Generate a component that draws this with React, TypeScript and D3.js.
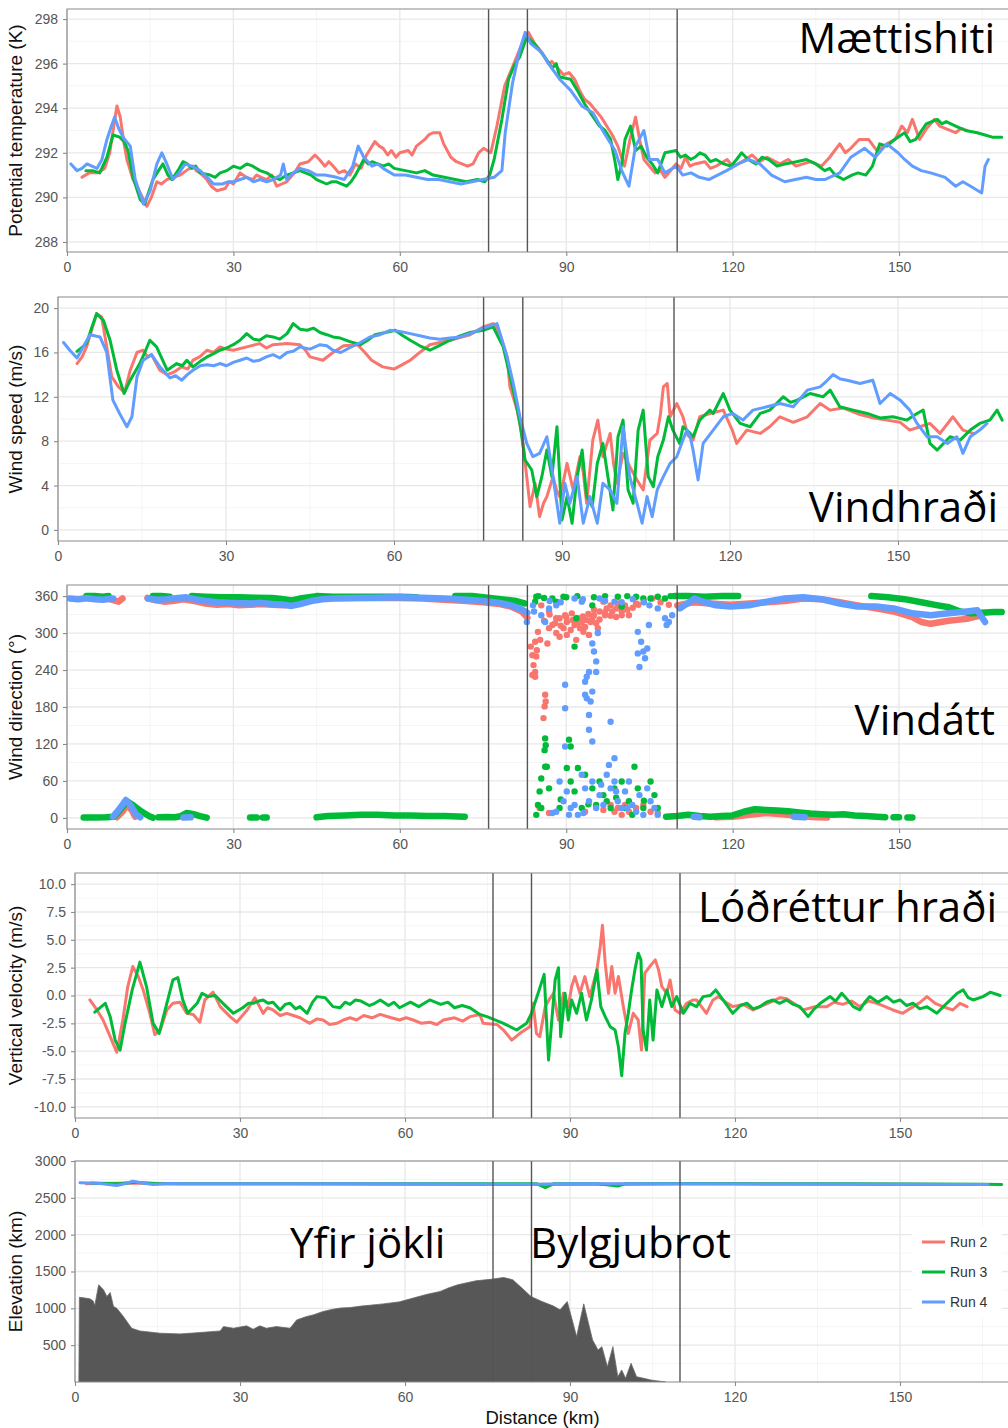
import React, { useEffect, useRef } from 'react';
import * as d3 from 'd3';

type Pt = [number, number] | null;

const runNames = ['Run 2', 'Run 3', 'Run 4'];
const runColors = ['#F8766D', '#00BA38', '#619CFF'];
const sectionKm = [76, 83, 110];
const xTicks = [0, 30, 60, 90, 120, 150];
const xMinor = [15, 45, 75, 105, 135, 165];

// ---- potential temperature (K)
const ptRun2: Pt[] = [[2.7,290.9],[4,291.1],[5.5,291.1],[6.8,291.3],[7.7,292.0],[8.5,293.3],[9.0,294.1],[9.6,293.6],[10.3,292.4],[10.8,291.7],[11.9,290.8],[13,290.3],[14.4,289.6],[15.2,290.0],[16.2,290.7],[17,290.6],[18,290.8],[19.2,290.9],[20.4,291.0],[21.5,291.2],[22.7,291.4],[23.3,291.2],[24,291.1],[25.2,290.8],[26,290.5],[27,290.3],[28.5,290.4],[29.3,290.7],[30,290.6],[31.2,291.1],[32.3,290.9],[33.5,290.8],[34.2,291.0],[35,290.9],[36,290.8],[36.9,291.0],[37.8,290.5],[38.7,290.6],[39.6,290.7],[41,291.1],[42,291.5],[43.5,291.6],[44.7,291.9],[45.5,291.7],[46.5,291.4],[47.2,291.6],[48,291.4],[49,291.1],[50,291.2],[51,291.0],[52,291.5],[53,291.3],[54,291.9],[55.5,292.5],[56.3,292.3],[57,292.2],[57.8,291.9],[58.5,292.1],[59.3,291.8],[60,292.0],[61.5,292.1],[62.2,291.9],[63,292.3],[64.5,292.6],[65.2,292.8],[66,292.9],[67.2,292.9],[67.9,292.4],[69.2,291.8],[70.2,291.6],[71.2,291.5],[72.2,291.4],[73.2,291.5],[74.2,292.0],[75.1,292.2],[76.4,292.0],[77.5,293.2],[78.9,295.0],[80.9,296.2],[82.2,297.0],[83.2,297.4],[84.3,296.9],[85.6,296.5],[86.8,296.0],[87.4,296.1],[88.1,295.9],[89.5,295.5],[90.5,295.6],[91.5,295.3],[92.4,294.8],[93.3,294.4],[94.3,294.2],[95.3,293.9],[96.3,293.6],[97.3,293.2],[98.3,292.8],[99.3,292.3],[100.5,291.4],[101.5,292.6],[102.5,293.6],[103.3,292.5],[104,291.7],[105,291.4],[106,291.1],[107,291.2],[107.8,290.9],[109.8,291.5],[110.7,291.3],[111.5,291.8],[112.3,291.4],[113.2,291.5],[115,291.6],[116,291.3],[117,291.4],[119,291.7],[120,291.4],[121,291.5],[122.3,291.7],[123.5,291.9],[124.8,291.6],[126.2,291.8],[128.5,291.5],[130,291.7],[131.4,291.4],[132.7,291.5],[134,291.6],[136,291.4],[137.5,291.8],[139.3,292.4],[140.3,292.0],[141.3,292.2],[142.8,292.6],[144.5,292.6],[146,292.1],[147.8,292.4],[149.3,292.6],[150.5,293.2],[151.5,292.9],[152.4,293.5],[153.7,292.6],[155,293.1],[156.4,293.5],[157.3,293.2],[158.3,293.1],[160.2,292.9],[161.2,293.1],[162.2,293.0]];
const ptRun3: Pt[] = [[3.4,291.2],[4.6,291.2],[5.9,291.1],[7.2,291.8],[8.3,292.8],[9.5,292.7],[10.3,292.5],[11,292.1],[11.9,290.9],[13.2,289.9],[14,289.7],[15.5,290.8],[16.5,291.2],[17.3,291.5],[18.2,291.0],[18.9,290.8],[20,291.2],[20.9,291.6],[21.7,291.5],[22.5,291.3],[23.2,291.4],[24,291.1],[25.8,291.0],[26.7,290.9],[27.6,291.1],[28.8,291.2],[30,291.4],[31.2,291.3],[32.4,291.5],[33.5,291.4],[34.8,291.2],[36,291.1],[37.2,290.9],[38.4,290.8],[39.6,291.0],[40.8,291.1],[42,291.2],[43,291.1],[44,291.0],[45,290.8],[46.8,290.6],[47.7,290.7],[48.6,290.7],[50.4,290.5],[51.2,290.7],[52,291.0],[53.5,291.7],[54.3,291.5],[55,291.6],[57,291.4],[58,291.5],[59,291.3],[61,291.2],[63,291.1],[64.5,291.2],[66,291.0],[68,290.9],[70,290.8],[72,290.7],[74,290.8],[75.3,290.7],[76.2,291.0],[77,291.7],[78.4,293.5],[79.6,295.3],[80.6,295.9],[81.6,296.3],[82.9,297.2],[84.2,296.9],[85.2,296.6],[86.1,296.3],[87.5,295.8],[88.2,296.0],[88.8,295.4],[90.8,295.3],[92,294.8],[93.3,294.2],[94.6,293.7],[96,293.2],[97,293.0],[98,292.6],[98.8,291.6],[99.3,290.8],[100,291.5],[100.6,292.6],[101.6,293.2],[102.5,292.1],[103.5,292.3],[104.5,291.8],[105.5,291.5],[106.5,291.1],[107.8,292.0],[109.8,292.1],[110.6,291.8],[111.5,291.9],[112.4,291.7],[113.2,291.8],[114.1,292.0],[115,291.9],[116,291.6],[117,291.7],[118.4,291.5],[119.7,291.4],[120.7,291.7],[121.6,292.0],[122.8,291.7],[124.2,291.5],[125.3,291.8],[126.5,291.7],[128,291.4],[129.4,291.5],[131.5,291.6],[133.3,291.7],[135,291.5],[136.6,291.2],[137.5,291.3],[138.5,291.0],[140,290.8],[141.5,291.0],[142.6,291.1],[144,291.0],[145.2,291.4],[146.5,292.4],[147.8,292.3],[149.2,292.6],[151,292.9],[152,292.5],[153,292.6],[154.9,293.3],[156.9,293.5],[157.7,293.3],[158.5,293.4],[160.2,293.2],[162,293.0],[164.1,292.9],[165.5,292.8],[166.8,292.7],[168.5,292.7]];
const ptRun4: Pt[] = [[0.7,291.5],[1.8,291.2],[2.7,291.3],[3.6,291.5],[4.5,291.4],[5.4,291.3],[6.3,291.7],[7.2,292.6],[8.0,293.2],[8.6,293.6],[9.3,293.1],[10.1,292.7],[11.4,292.3],[12.3,290.8],[13.8,289.7],[15,290.3],[16.2,291.5],[17.1,292.0],[18,291.5],[19.1,290.8],[20.2,291.1],[21.3,291.5],[22.5,291.4],[24,291.2],[25.3,290.9],[26.4,290.6],[28,290.6],[29,290.7],[30,290.7],[31.2,290.8],[32.4,290.9],[33.6,290.7],[34.8,290.8],[36,290.7],[37.2,290.8],[38.5,291.0],[39,291.5],[39.6,290.8],[40.8,291.1],[42,291.3],[43.5,291.2],[45,291.0],[46.5,291.0],[48.6,290.9],[50,290.8],[51.5,291.4],[52.5,292.3],[53.5,291.8],[55,291.4],[56,291.5],[57,291.3],[59,291.0],[61,291.0],[63,290.9],[65,290.8],[67,290.8],[69,290.7],[71,290.6],[73,290.7],[75,290.8],[77,290.9],[78.4,291.2],[79,292.9],[80.3,295.1],[81.6,296.6],[82.6,297.4],[83.6,296.9],[85.6,296.5],[86.8,296.0],[88.8,295.3],[90.8,294.8],[92.8,294.1],[94.8,293.8],[96.8,292.9],[98.8,292.1],[100,291.2],[101.3,290.5],[102.5,292.3],[104,293.0],[105,291.7],[106.5,291.7],[107.8,291.1],[109.8,291.4],[111,291.0],[112.5,291.1],[114,290.9],[115.7,290.8],[117.3,291.0],[118.9,291.2],[121,291.5],[122.9,291.7],[124.9,291.5],[127,291.0],[129.4,290.7],[131.3,290.8],[133.3,290.9],[135,290.8],[136.6,290.8],[139.3,291.1],[141.3,291.8],[143.8,292.2],[145.7,291.8],[147.8,292.4],[149.8,292.0],[151,291.7],[152.4,291.4],[154,291.2],[155.7,291.1],[157,291.0],[158.3,290.9],[160.2,290.5],[161.5,290.7],[162.9,290.5],[164.9,290.2],[165.5,291.4],[166.1,291.7]];

// ---- wind speed (m/s)
const wsRun2: Pt[] = [[3.4,15.0],[4.3,15.6],[5.1,16.5],[6.0,18.0],[6.9,19.5],[7.8,19.2],[8.7,16.5],[9.6,13.8],[10.8,12.9],[11.9,12.4],[12.9,14.4],[14.1,16.0],[15.2,16.2],[16.0,15.6],[16.7,15.8],[18.2,14.4],[19.5,14.0],[20.6,14.2],[22.1,14.7],[23.2,14.5],[24.1,15.3],[25.3,15.6],[26.6,16.2],[27.8,16.0],[28.9,16.5],[30.1,16.3],[31.3,16.2],[33.7,16.5],[36,16.8],[37.2,16.4],[38.4,16.7],[40.9,16.8],[43.2,16.7],[44.2,16.2],[45,15.6],[47.3,15.3],[49.1,16.0],[51,16.6],[53.5,16.7],[54.8,16.0],[56,15.3],[58,14.7],[60,14.5],[61.5,14.9],[62.9,15.3],[64.6,16.0],[66.4,16.7],[70,17.1],[73.6,17.6],[75.9,18.3],[77.7,18.6],[78.9,17.7],[80.2,15.6],[80.7,12.9],[82,10.8],[82.9,8.4],[83.7,4.8],[84.3,2.1],[85.2,4.2],[86,1.2],[86.7,2.4],[87.3,3.0],[88.4,4.8],[89,3.6],[89.6,3.0],[90.3,4.5],[90.9,6.0],[92,3.6],[93.2,6.6],[93.8,5.2],[94.4,2.4],[95.5,8.1],[96.4,9.9],[97.3,6.6],[98.6,8.7],[99.2,6.0],[99.8,4.2],[100.9,6.9],[102.1,5.7],[103.4,4.5],[104.5,3.6],[105.7,8.1],[107,8.7],[107.6,10.5],[108.1,12.9],[108.8,13.2],[109.3,10.2],[110.5,11.4],[111.6,10.2],[112.5,8.5],[113.4,8.1],[114.6,10.2],[116.4,10.5],[118.8,10.8],[120.4,9.0],[121.2,7.8],[123,9.0],[125.4,8.7],[127.1,9.3],[128.9,10.2],[131.3,9.7],[133.8,10.2],[136.1,11.4],[137.9,10.8],[140.2,11.0],[143.2,10.4],[145.5,10.1],[148,9.9],[150.4,9.7],[152.1,9.0],[153.9,9.3],[155.7,9.6],[157.5,8.7],[159.8,10.2],[161.6,9.0],[163.4,8.7]];
const wsRun3: Pt[] = [[3.4,16.1],[5.1,16.8],[6.0,18.2],[6.9,19.5],[8.1,18.9],[9.3,17.1],[10.5,14.4],[11.8,12.3],[12.9,13.5],[14.6,15.0],[15.5,16.0],[16.4,17.1],[17.6,16.5],[19.5,14.4],[21.2,15.0],[22.2,14.8],[23,15.3],[24.1,14.7],[25.4,15.2],[26.6,15.6],[27.8,15.9],[28.9,16.2],[30.1,16.4],[31.3,16.7],[32.5,17.1],[33.7,17.7],[34.9,17.2],[36,17.1],[37.2,17.5],[38.4,17.4],[39.6,17.2],[40.9,17.7],[42,18.6],[43.2,18.1],[44.5,18.0],[45.6,18.2],[46.8,17.8],[48,17.6],[49.1,17.4],[50.4,17.3],[52,17.0],[54,16.7],[55.3,17.1],[56.6,17.6],[58.5,17.8],[60.2,18.0],[61.6,17.5],[62.9,17.1],[64.6,16.6],[66.4,16.2],[68,16.6],[70,17.1],[71.8,17.5],[73.6,17.8],[75.9,18.0],[77.7,18.3],[79.5,16.5],[81.3,12.6],[82.5,9.6],[83.4,6.3],[84.6,5.4],[85.5,3.0],[86.4,4.8],[87.3,7.2],[88.2,4.8],[89.1,9.3],[90,0.9],[90.9,3.0],[91.8,0.6],[92.7,4.8],[93.6,7.2],[94.4,3.0],[95.4,2.1],[96.3,6.0],[97.3,7.8],[98.2,4.8],[99.1,1.8],[100,8.4],[100.9,9.9],[101.8,3.6],[102.7,2.4],[103.6,9.0],[104.5,10.8],[105.4,4.8],[106.3,3.9],[107.1,6.6],[108.1,8.1],[109,10.2],[109.8,9.0],[111,7.8],[111.6,9.3],[112.9,8.7],[113.4,8.4],[114.6,9.9],[115.2,10.2],[116.4,10.8],[117,10.5],[118.8,12.3],[120,10.8],[121.8,9.6],[123.6,9.3],[125.4,10.5],[127.1,10.8],[128.3,11.4],[129.5,12.0],[130.8,11.5],[132,11.7],[134.3,12.3],[136.6,12.0],[137.9,12.6],[139.6,11.1],[142,10.8],[144.5,10.5],[146.8,10.1],[149.1,10.2],[151.6,9.9],[153.4,10.5],[154.5,10.8],[155.7,7.8],[157,7.2],[159.3,8.4],[161.1,8.1],[162.9,9.0],[164.6,9.6],[166.4,9.9],[167.7,10.8],[168.6,9.9]];
const wsRun4: Pt[] = [[1.0,16.9],[2.1,16.2],[3.4,15.5],[4.5,16.5],[5.7,17.6],[7.5,17.4],[8.7,16.0],[9.8,11.7],[11,10.5],[12.3,9.3],[13.2,10.2],[14.1,13.8],[15.2,15.3],[16.7,15.8],[18.2,14.7],[20,13.7],[21,13.9],[22.1,13.5],[23.1,14.0],[24.1,14.4],[25.4,14.8],[26.6,14.9],[27.8,14.8],[28.9,15.0],[30.1,14.8],[31.3,15.1],[32.5,15.3],[33.7,15.5],[34.9,15.2],[36,15.3],[37.2,15.6],[38.4,15.8],[39.6,15.5],[40.9,16.0],[42,16.1],[43.2,16.5],[45,16.3],[46.8,16.7],[48,16.6],[49.1,16.2],[50.5,16.0],[52,16.4],[54,16.9],[55.7,17.4],[57.5,17.6],[59.3,18.0],[61,17.9],[62.9,17.7],[64.6,17.5],[66.4,17.3],[68.2,17.2],[70,17.3],[71.8,17.4],[73.6,17.7],[75.9,18.2],[78.4,18.6],[80.2,15.6],[81.3,13.2],[82.5,10.2],[83.7,7.8],[84.8,6.6],[86,6.9],[87.3,8.4],[88.4,4.8],[89.6,0.6],[90.5,4.2],[91.4,2.4],[92.7,4.8],[93.8,0.6],[95,3.0],[96.3,0.6],[97.3,4.2],[98.6,3.6],[99.8,2.4],[100.9,9.3],[102.1,4.8],[103.4,2.4],[104.3,0.6],[105.2,3.0],[106.1,1.2],[107,3.6],[108.1,4.8],[109.3,6.0],[110.5,6.6],[111.6,8.1],[112.3,9.0],[112.9,8.4],[113.4,7.2],[114.3,4.5],[115.2,7.8],[117,9.0],[118.8,10.2],[120.5,10.5],[122.3,9.9],[124.1,10.8],[126.6,11.1],[128.9,11.4],[131.3,11.1],[133.8,12.6],[136.1,12.9],[137.2,13.4],[138.4,14.0],[139.7,13.6],[140.9,13.5],[143.2,13.2],[145.5,13.5],[146.8,11.4],[148.6,12.3],[150.4,11.7],[152.1,10.8],[153.4,9.6],[155.2,8.4],[157,8.4],[158.8,7.8],[160.5,8.4],[161.6,6.9],[162.9,8.4],[164.6,9.0],[165.9,9.6]];

// ---- wind direction (deg): dense bands (null = gap) and scattered points
const wdBand2: Pt[] = [[6.5,357],[7.5,356],[8.5,353],[9.3,351],[10,356],null,[14.5,357],[16,353],[17.5,351],[19,352],[21,355],[23,352],[25,348],[27,346],[29,347],[31,345],[33,346],[35,347],[37,346],[39,345],[41,347],[43,352],[45,356],[48,357],[52,357],[56,357],[60,357],[64,356],[68,354],[72,352],[75,350],[78,347],[80,343],[82,335],[83,325],null,[110,345],[113,350],[116,348],[119.6,346],[123,348],[126.2,350],[129.4,352],[132.7,356],[136,355],[139.3,350],[142.5,345],[145.8,340],[149,335],[152.4,326],[154,318],[155.7,315],[158.9,320],[162.2,323],[164.5,328],null,[9,1],[10,10],[10.8,22],[11.7,12],[12.3,2],null,[117,1],[120,2],[123,5],[126,8],[129,6],[132,3],[135,1],[137,0.5]];
const wdBand3: Pt[] = [[3.5,360],[5,360],[6.5,359],[7.5,360],null,[15.5,360],[17,360],[18.5,359],null,[22.5,360],[25,359],[28,358],[31,358],[34,357.5],[37,357],[39,355],[40.5,353],[42,356],[45,360],[48,359],[52,359],[56,359],[60,359],[63,358],null,[70,360],[73,360],[75,358],[77,356],[79,354],[81,352],[82.5,348],null,[109.5,360],[112,360],[115,359],[118,360],[121,360],null,[145,360],[148,358],[151,355],[154,350],[157,345],[159,342],[161,335],[163,332],[165,333],[167,334],[168.5,334],null,[3,0.5],[5,0.5],[7,1],[8.5,2],[9.5,12],[10.8,27],[12,20],[13.5,10],[15,2],[15.5,0.5],null,[16.5,1],[18,1.5],[19.5,1],[20.5,3],[21.6,8],[22.8,6],[24,3],[25.2,0.5],null,[33,0.5],[34.2,0.5],null,[35.3,0.5],[36,0.5],null,[45,1],[47,3],[50,4],[53,5],[56,5],[59,4],[62,4],[65,3],[68,3],[71.7,2],null,[108,2],[110,3],[112,5],[114,3],[116,2],[118,3],[120,4],[122,10],[124,14],[126,13],[128,12],[130,11],[132,9],[134,7],[136,6],[138,5],[140,6],[142,4],[144,3],[146,2],[147.5,1],null,[149,1],[150,1],null,[151.5,0.5],[152.4,0.5]];
const wdBand4: Pt[] = [[0.5,356],[2,355],[3.5,356.5],[5,355],[6.5,354],[8.3,356],null,[14.6,356],[16,354],[18,355],[20,357],[21.5,358],[23,355],[25,352],[27,350],[29,349],[31,348.5],[33,348],[35,349],[37,347],[39,346],[40.5,344],[42,347],[44,352],[46,355],[48,356],[52,357],[56,357.5],[60,358],[64,357.5],[68,356],[72,354],[75,352],[78,349],[80,345],[82,338],[83,333],null,[110.5,340],[112.5,352],[113.1,356],[115,350],[117,345],[119.6,343],[122.9,345],[126.2,351],[129.4,356],[132.7,358],[136,355],[139.3,348],[142.5,343],[145.8,343],[149,340],[152.4,332],[155.7,329],[158.9,332],[162.2,335],[164.1,337],[165.5,318],null,[8.3,2],[9.5,15],[10.6,29],[11.5,20],[12.5,5],[13.2,1],null,[21,0.5],[22.3,1],null,[113,2],[114,1],null,[131,2],[133,1]];
const wdDots2: [number, number][] = [[83.6,278],[84.4,286],[83.9,264],[84.6,262],[84.1,248],[84.4,237],[83.9,232],[84.4,229],[86.2,200],[86.3,189],[86.1,181],[85.9,162],[84.9,302],[86.6,283],[86.9,308],[87.5,313],[88.2,300],[88.8,294],[89.5,308],[90.1,318],[90.8,305],[91.5,313],[92.1,324],[92.8,318],[93.4,310],[94.1,297],[94.7,324],[95.4,316],[96,335],[96.7,351],[97.3,340],[98,345],[99,326],[100,335],[100.6,345],[101.3,329],[102.6,348],[85.5,345],[86.9,335],[88.2,324],[90.1,297],[91.8,289],[93.1,302],[94.4,318],[84.7,272],[85.3,289],[88.8,324],[89.8,329],[91.1,321],[92.5,308],[93.7,321],[95,329],[95.7,308],[97,329],[98.3,335],[99.3,348],[86,320],[87,330],[88,316],[89,312],[90,326],[91,332],[92,316],[93,327],[94,331],[95,338],[96,322],[97,334],[98,328],[99,340],[100,329],[101,338],[102,341],[103,346],[104,352],[105.5,356],[107,350],[108.5,346],[85.2,16],[86.9,8],[93.4,10],[96.7,13],[98,21],[99.3,16],[100,5],[101.3,10],[102.6,16],[103.9,21],[105.2,10],[106.5,8],[98.7,10],[100.6,21]];
const wdDots3: [number, number][] = [[84.4,351],[84.6,359],[86.2,129],[86.3,118],[86.1,110],[86.2,83],[86.5,83],[85.5,64],[85.2,43],[84.9,21],[84.6,5],[90.5,127],[90.8,116],[91.5,278],[91.8,324],[88.2,351],[89.5,359],[90.1,81],[90.8,59],[92.1,81],[93.4,70],[94.7,48],[96,59],[96.7,37],[97.3,27],[98.7,48],[100,59],[100.6,16],[101.3,27],[102.3,83],[102.9,48],[103.9,16],[105.2,59],[105.9,37],[106.5,16],[87.5,356],[94.7,345],[99.3,359],[100,343],[102.6,359],[103.9,356],[85.5,16],[86.9,48],[88.8,16],[91.5,43],[92.8,16],[95.4,21],[98,16],[101.9,5],[105.2,356],[106.5,359],[107.8,356],[85,360],[86,357],[90,358],[92,360],[95,358],[97,360],[101,360],[108.8,360],[89,30],[94,22],[99,33],[104,28]];
const wdDots4: [number, number][] = [[89.8,216],[89.8,178],[89.8,116],[93.4,221],[93.7,229],[94.1,237],[93.4,200],[93.7,194],[94.1,167],[94.4,189],[94.7,205],[94.7,124],[94.1,143],[95,270],[95.4,254],[95.4,237],[95.7,300],[94.7,283],[98,156],[102.9,302],[103.5,286],[103.9,270],[104.2,259],[103.2,245],[104.6,275],[104.9,313],[102.9,267],[98.7,97],[86.9,340],[88.2,345],[91.5,356],[92.8,351],[96,356],[98.7,351],[106.5,340],[107.8,324],[108.1,313],[108.5,318],[109.1,329],[82.9,318],[84.2,335],[85.5,329],[86.2,318],[84,345],[87,352],[89,350],[93,355],[97,352],[100,350],[102,355],[104,350],[105,345],[87.5,8],[88.8,59],[89.5,27],[90.1,43],[90.8,16],[91.5,21],[92.1,5],[92.8,70],[93.4,48],[94.1,27],[94.7,59],[95.4,16],[96,37],[96.7,21],[97.3,70],[97.7,86],[98,48],[98.7,59],[99.3,27],[100,16],[100.6,43],[101.3,59],[101.9,21],[102.6,10],[103.2,37],[104.6,48],[105.2,27],[105.9,16],[106.5,5],[88.2,10],[90.5,5],[93.1,8],[96.3,54],[99,43],[101,16],[103.9,5]];

// ---- vertical velocity (m/s)
const vvRun2: Pt[] = [[2.7,-0.4],[4,-1.3],[5.1,-2.2],[6.4,-3.7],[7.6,-5.1],[8.7,-2.2],[9.6,0.8],[10.5,2.6],[11.5,1.7],[12.4,0.5],[13.6,-1.6],[14.5,-3.5],[15.5,-3.1],[16.7,-1.3],[17.8,-0.7],[19.1,-0.6],[20.3,-1.6],[21.5,-1.7],[22.7,-2.4],[23.6,-0.4],[25.1,0.3],[26.4,-1.0],[28.2,-1.9],[29.4,-2.4],[31.3,-1.3],[32.7,-0.2],[34.2,-1.6],[35,-1.1],[36,-1.3],[37.3,-1.8],[38.5,-1.6],[39.7,-1.8],[40.9,-2.0],[42.7,-2.5],[44,-2.1],[45.1,-2.2],[46.3,-2.6],[47.6,-2.5],[48.8,-2.2],[50,-2.0],[51.2,-2.2],[52.5,-1.8],[54,-2.0],[55.5,-1.7],[57.5,-2.0],[59,-2.2],[60.2,-2.0],[61.5,-2.2],[63,-2.5],[64.5,-2.4],[65.8,-2.6],[67,-2.2],[69,-2.0],[70.5,-2.3],[71.8,-1.9],[73.6,-1.7],[74.2,-2.5],[76.7,-2.6],[77.9,-3.1],[79.4,-4.0],[80.9,-3.4],[82.7,-2.8],[83.3,-0.7],[83.9,-3.4],[84.5,-3.7],[85.5,-1.0],[86.3,-0.3],[87,0.2],[87.9,-2.2],[88.8,0.2],[89.7,-1.0],[90.3,0.8],[90.9,1.7],[91.8,0.2],[92.7,1.7],[93.6,-0.1],[94.9,2.3],[95.5,4.4],[95.9,6.3],[96.4,2.9],[97,0.2],[97.6,2.6],[98.2,0.2],[98.8,1.7],[99.7,-1.0],[100.6,-3.4],[101.5,-1.6],[102.4,-2.2],[103,-4.9],[103.6,2.0],[104.5,2.6],[105.5,3.2],[106.1,2.3],[106.7,0.8],[107.6,0.2],[108.2,1.4],[109.1,-1.3],[110,-1.6],[111.2,-0.7],[112.4,-0.4],[113,-0.4],[114.8,-1.6],[116,-0.4],[117,-0.1],[118.3,-0.6],[119.6,-1.0],[121.5,-0.8],[123.3,-1.3],[125,-0.9],[126.9,-0.5],[128.2,-0.2],[129.4,-0.3],[131,-0.8],[132.4,-1.3],[134.5,-1.0],[136.7,-1.0],[138,-0.6],[139.6,-0.8],[141.2,-0.5],[142.7,-1.0],[144.3,-0.5],[145.8,-0.7],[147.3,-1.0],[148.7,-1.3],[150.5,-1.6],[152.4,-1.0],[153.7,-0.6],[154.9,-0.1],[156.4,-0.7],[157.8,-1.0],[159.6,-1.3],[160.9,-0.7],[162.2,-1.0]];
const vvRun3: Pt[] = [[3.6,-1.5],[5.5,-0.7],[6.4,-1.9],[7.3,-4.0],[8.2,-4.9],[9.1,-2.5],[10.4,0.5],[11.8,3.0],[13,0.8],[14.2,-2.5],[15.3,-3.4],[16.7,-0.7],[17.8,1.4],[18.7,1.6],[19.6,-0.4],[20.5,-1.6],[22.2,-0.7],[23.1,0.2],[24.2,-0.1],[25.5,0.0],[26.9,-0.7],[28.8,-1.6],[30.5,-1.1],[31.5,-0.7],[32.4,-0.7],[33.4,-0.5],[34.2,-0.4],[35.1,-0.7],[36,-0.6],[37.3,-1.3],[38.2,-0.8],[39.1,-0.7],[40.1,-1.2],[40.9,-1.0],[42.2,-1.6],[43.2,-0.6],[44,-0.1],[45.5,-0.2],[46.9,-1.0],[48.2,-1.1],[49.1,-0.6],[50,-0.8],[51,-0.4],[52,-0.5],[53.5,-0.9],[54.5,-0.7],[55.5,-0.4],[57,-0.9],[58,-0.6],[59,-1.1],[61,-0.6],[62.5,-1.0],[63.5,-0.7],[64.5,-0.4],[66.5,-0.8],[67.8,-0.6],[69,-1.1],[70.4,-0.9],[71.8,-1.1],[73.6,-1.7],[74.9,-1.9],[77.9,-2.5],[80.3,-3.1],[82.1,-2.5],[83,-1.6],[84.2,0.2],[85.3,1.9],[86.1,-5.8],[86.7,-2.2],[87.3,1.4],[87.9,2.5],[88.3,-3.7],[89.1,0.2],[89.7,-2.2],[90.3,-0.4],[91.2,-1.6],[92.1,0.2],[93,-2.2],[93.9,-0.4],[94.9,2.3],[95.6,-1.0],[96.4,-1.9],[97.3,-2.8],[98.2,-3.1],[98.8,-4.6],[99.4,-7.2],[100,-3.4],[100.6,-1.6],[101.2,0.5],[101.8,2.3],[102.4,3.8],[102.9,3.2],[103.3,-3.1],[103.9,-4.9],[104.5,-0.4],[105.1,-4.0],[105.8,0.5],[106.7,-1.0],[107.6,0.5],[108.5,-1.0],[109.4,-0.1],[110.6,-1.6],[111.8,-0.7],[113,-1.0],[114.2,-0.1],[115.5,0.0],[116.5,0.5],[118,-0.5],[119.6,-1.6],[121,-0.9],[122.2,-0.7],[123.3,-1.2],[124.5,-1.0],[125.7,-0.6],[126.9,-0.4],[128.1,-0.7],[129.4,-0.4],[130.6,-0.8],[131.8,-1.0],[133.3,-1.9],[134.4,-1.2],[135.5,-0.7],[137.3,-0.1],[138.3,-0.5],[139.4,0.2],[140.5,-0.4],[141.5,-1.0],[142.7,-1.3],[143.6,-0.6],[144.5,-0.1],[146,-0.6],[147.6,-0.1],[148.8,-0.6],[150,-0.4],[151.2,-0.9],[152.4,-0.7],[153.6,-1.2],[154.9,-1.0],[156.7,-1.6],[158.5,-0.7],[160.4,0.2],[161.5,0.5],[162.4,-0.2],[163.3,-0.4],[165.1,-0.1],[166.4,0.3],[168.2,0.0]];

// ---- elevation (m)
const terrain: [number, number][] = [[0.7,0],[0.8,1150],[1.8,1140],[2.7,1130],[3.3,1100],[3.6,1040],[4.3,1320],[5.2,1250],[5.8,1160],[6.4,1215],[7.0,1025],[7.6,1000],[8.8,889],[10.3,730],[11.8,693],[15.5,662],[19.1,653],[22.7,671],[26.4,693],[27,752],[28.8,730],[31.2,762],[32.4,716],[33.6,762],[34.8,730],[36.6,752],[39.1,730],[40.3,843],[42.1,889],[43.3,911],[45.1,957],[46.9,989],[48.2,1003],[50,1010],[52,1030],[54,1045],[56,1060],[59,1088],[62,1150],[64,1190],[66.4,1229],[68,1280],[69.6,1320],[72.9,1374],[76,1397],[77.9,1419],[79.6,1388],[81.6,1252],[82.9,1161],[84.9,1093],[86.9,1034],[88.2,980],[89.5,1093],[91.2,617],[92.5,1061],[94.1,571],[95.1,435],[95.8,480],[96.8,208],[97.8,480],[98.7,72],[99.4,163],[100.1,50],[101.1,254],[102.1,72],[103.4,50],[104.7,27],[107.4,0]];
const elRun2: Pt[] = [[2,2690],[10,2700],[20,2690],[40,2690],[60,2685],[80,2680],[100,2685],[120,2690],[140,2685],[160,2680],[165,2680]];
const elRun3: Pt[] = [[3,2700],[8,2690],[11,2710],[15,2690],[30,2690],[60,2690],[84,2690],[85.5,2640],[87,2690],[95,2690],[98.7,2660],[100,2690],[110,2695],[140,2690],[165,2685],[168.5,2680]];
const elRun4: Pt[] = [[0.9,2705],[3,2700],[5,2690],[7.6,2667],[9,2690],[10.5,2725],[12,2705],[14.2,2680],[17,2695],[20,2690],[30,2690],[50,2690],[70,2688],[83,2685],[90,2690],[110,2690],[130,2688],[150,2685],[166,2680]];

const FONT = "'Liberation Sans', Arial, sans-serif";
const BIG = "'Open Sans', 'Noto Sans', sans-serif";

type PanelCfg = {
  left: number; top: number; bottom: number;
  yDomain: [number, number]; yTicks: number[]; yMinor: number[];
  fmt?: (v: number) => string; title: string;
};

export default function App() {
  const svgRef = useRef<SVGSVGElement | null>(null);

  useEffect(() => {
    if (!svgRef.current) return;
    const svg = d3.select(svgRef.current);
    svg.selectAll('*').remove();
    const RIGHT = 1010;

    const panel = (cfg: PanelCfg, id: string) => {
      const x = d3.scaleLinear().domain([0, 170]).range([cfg.left, RIGHT]);
      const y = d3.scaleLinear().domain(cfg.yDomain).range([cfg.bottom, cfg.top]);
      const g = svg.append('g');
      g.append('rect').attr('x', cfg.left).attr('y', cfg.top)
        .attr('width', RIGHT - cfg.left).attr('height', cfg.bottom - cfg.top).attr('fill', '#fff');
      // grid
      g.selectAll('.gxm').data(xMinor).join('line')
        .attr('x1', d => x(d)).attr('x2', d => x(d)).attr('y1', cfg.top).attr('y2', cfg.bottom)
        .attr('stroke', '#f2f2f2').attr('stroke-width', 0.8);
      g.selectAll('.gym').data(cfg.yMinor).join('line')
        .attr('x1', cfg.left).attr('x2', RIGHT).attr('y1', d => y(d)).attr('y2', d => y(d))
        .attr('stroke', '#f2f2f2').attr('stroke-width', 0.8);
      g.selectAll('.gx').data(xTicks).join('line')
        .attr('x1', d => x(d)).attr('x2', d => x(d)).attr('y1', cfg.top).attr('y2', cfg.bottom)
        .attr('stroke', '#e8e8e8').attr('stroke-width', 1.3);
      g.selectAll('.gy').data(cfg.yTicks).join('line')
        .attr('x1', cfg.left).attr('x2', RIGHT).attr('y1', d => y(d)).attr('y2', d => y(d))
        .attr('stroke', '#e8e8e8').attr('stroke-width', 1.3);

      svg.append('clipPath').attr('id', id).append('rect')
        .attr('x', cfg.left).attr('y', cfg.top).attr('width', RIGHT - cfg.left).attr('height', cfg.bottom - cfg.top);
      const data = g.append('g').attr('clip-path', `url(#${id})`);

      const finish = () => {
        g.selectAll('.sec').data(sectionKm).join('line')
          .attr('x1', d => x(d)).attr('x2', d => x(d)).attr('y1', cfg.top).attr('y2', cfg.bottom)
          .attr('stroke', '#555').attr('stroke-width', 1.4);
        const border = d3.path();
        border.moveTo(RIGHT + 5, cfg.top); border.lineTo(cfg.left, cfg.top);
        border.lineTo(cfg.left, cfg.bottom); border.lineTo(RIGHT + 5, cfg.bottom);
        g.append('path').attr('d', border.toString()).attr('fill', 'none')
          .attr('stroke', '#8a8a8a').attr('stroke-width', 1.2);

        const yAxis = g.append('g').attr('transform', `translate(${cfg.left},0)`)
          .call(d3.axisLeft(y).tickValues(cfg.yTicks).tickSize(4).tickPadding(5)
            .tickFormat(cfg.fmt ? (v => cfg.fmt!(v as number)) : (v => String(v))));
        const xAxis = g.append('g').attr('transform', `translate(0,${cfg.bottom})`)
          .call(d3.axisBottom(x).tickValues(xTicks).tickSize(4).tickPadding(6).tickFormat(v => String(v)));
        [yAxis, xAxis].forEach(a => {
          a.select('.domain').remove();
          a.selectAll('line').attr('stroke', '#8a8a8a').attr('stroke-width', 1.1);
          a.selectAll('text').attr('fill', '#555').attr('font-size', 14).attr('font-family', FONT);
        });
        g.append('text')
          .attr('transform', `translate(22,${(cfg.top + cfg.bottom) / 2}) rotate(-90)`)
          .attr('text-anchor', 'middle').attr('font-family', FONT).attr('font-size', 19)
          .attr('fill', '#111').text(cfg.title);
      };
      return { x, y, g, data, finish };
    };

    const lineOf = (x: d3.ScaleLinear<number, number>, y: d3.ScaleLinear<number, number>) =>
      d3.line<Pt>().defined(d => d !== null).x(d => x(d![0])).y(d => y(d![1]));

    const drawRuns = (p: ReturnType<typeof panel>, runs: Pt[][], idx: number[], width = 3) => {
      const ln = lineOf(p.x, p.y);
      runs.forEach((r, i) => {
        p.data.append('path').datum(r).attr('d', ln).attr('fill', 'none')
          .attr('stroke', runColors[idx[i]]).attr('stroke-width', width)
          .attr('stroke-linejoin', 'round').attr('stroke-linecap', 'round');
      });
    };

    const bigLabel = (txt: string, xPos: number, yPos: number, anchor: string) => {
      svg.append('text').attr('x', xPos).attr('y', yPos).attr('text-anchor', anchor)
        .attr('font-family', BIG).attr('font-size', 42).attr('fill', '#000').text(txt);
    };

    // Panel 1: potential temperature
    const p1 = panel({ left: 67, top: 9, bottom: 252, yDomain: [287.55, 298.45],
      yTicks: [288, 290, 292, 294, 296, 298], yMinor: [289, 291, 293, 295, 297],
      title: 'Potential temperature (K)' }, 'c1');
    drawRuns(p1, [ptRun2, ptRun3, ptRun4], [0, 1, 2]);
    p1.finish();
    bigLabel('Mættishiti', 995, 53, 'end');

    // Panel 2: wind speed
    const p2 = panel({ left: 58, top: 297, bottom: 541, yDomain: [-1, 21],
      yTicks: [0, 4, 8, 12, 16, 20], yMinor: [2, 6, 10, 14, 18],
      title: 'Wind speed (m/s)' }, 'c2');
    drawRuns(p2, [wsRun2, wsRun3, wsRun4], [0, 1, 2]);
    p2.finish();
    bigLabel('Vindhraði', 998, 522, 'end');

    // Panel 3: wind direction
    const p3 = panel({ left: 67, top: 585, bottom: 829, yDomain: [-18, 378],
      yTicks: [0, 60, 120, 180, 240, 300, 360], yMinor: [30, 90, 150, 210, 270, 330],
      title: 'Wind direction (°)' }, 'c3');
    const bands = [wdBand2, wdBand3, wdBand4];
    const dots = [wdDots2, wdDots3, wdDots4];
    const ln3 = lineOf(p3.x, p3.y);
    [0, 1, 2].forEach(i => {
      p3.data.append('path').datum(bands[i]).attr('d', ln3).attr('fill', 'none')
        .attr('stroke', runColors[i]).attr('stroke-width', 6.5)
        .attr('stroke-linejoin', 'round').attr('stroke-linecap', 'round');
      p3.data.selectAll(`.d${i}`).data(dots[i]).join('circle')
        .attr('cx', d => p3.x(d[0])).attr('cy', d => p3.y(d[1])).attr('r', 3.2)
        .attr('fill', runColors[i]);
    });
    p3.finish();
    bigLabel('Vindátt', 995, 735, 'end');

    // Panel 4: vertical velocity
    const f1 = d3.format('.1f');
    const p4 = panel({ left: 75, top: 873, bottom: 1118, yDomain: [-11, 11],
      yTicks: [-10, -7.5, -5, -2.5, 0, 2.5, 5, 7.5, 10],
      yMinor: [-8.75, -6.25, -3.75, -1.25, 1.25, 3.75, 6.25, 8.75],
      fmt: v => f1(v).replace('\u2212', '-'), title: 'Vertical velocity (m/s)' }, 'c4');
    drawRuns(p4, [vvRun2, vvRun3], [0, 1]);
    p4.finish();
    bigLabel('Lóðréttur hraði', 997, 922, 'end');

    // Panel 5: elevation
    const p5 = panel({ left: 75, top: 1161, bottom: 1382, yDomain: [0, 3000],
      yTicks: [500, 1000, 1500, 2000, 2500, 3000],
      yMinor: [250, 750, 1250, 1750, 2250, 2750],
      title: 'Elevation (km)' }, 'c5');
    const area = d3.area<[number, number]>().x(d => p5.x(d[0])).y0(p5.y(0)).y1(d => p5.y(d[1]));
    p5.data.append('path').datum(terrain).attr('d', area).attr('fill', '#575757')
      .attr('stroke', '#6a6a6a').attr('stroke-width', 0.8);
    drawRuns(p5, [elRun2, elRun3, elRun4], [0, 1, 2]);
    // legend
    const lg = svg.append('g');
    lg.append('rect').attr('x', 912).attr('y', 1226).attr('width', 90).attr('height', 92).attr('fill', '#fff');
    runNames.forEach((n, i) => {
      const yy = 1242 + i * 30;
      lg.append('line').attr('x1', 922).attr('x2', 945).attr('y1', yy).attr('y2', yy)
        .attr('stroke', runColors[i]).attr('stroke-width', 3);
      lg.append('text').attr('x', 950).attr('y', yy + 5).attr('font-family', FONT)
        .attr('font-size', 14).attr('fill', '#333').text(n);
    });
    p5.finish();
    svg.append('text').attr('x', (75 + RIGHT) / 2).attr('y', 1424).attr('text-anchor', 'middle')
      .attr('font-family', FONT).attr('font-size', 18.5).attr('fill', '#111').text('Distance (km)');
    bigLabel('Yfir jökli', 290, 1258, 'start');
    bigLabel('Bylgjubrot', 530, 1258, 'start');
  }, []);

  return (
    <svg ref={svgRef} width={1008} height={1428}
      style={{ position: 'absolute', left: 0, top: 0, background: '#fff', overflow: 'hidden' }} />
  );
}
